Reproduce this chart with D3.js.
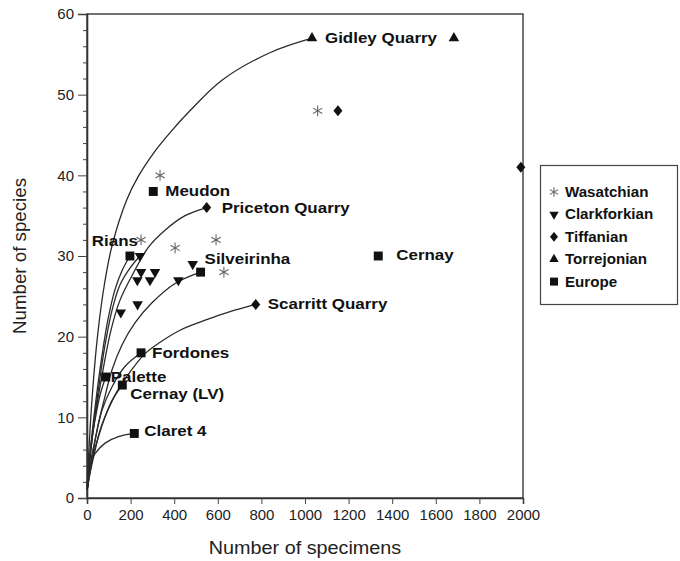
<!DOCTYPE html>
<html>
<head>
<meta charset="utf-8">
<script src="https://cdn.jsdelivr.net/npm/d3@7"></script>
<style>
body { margin: 0; background: #fff; }
svg { display: block; font-family: "Liberation Sans", Arial, sans-serif; }
</style>
</head>
<body>
<div id="chart"></div>
<script>

// [number of specimens, number of species]
var wasatchian = [[335, 40], [1058, 48], [248, 32], [404, 31], [592, 32], [628, 28]];
var clarkforkian = [[243, 30], [248, 28], [312, 28], [231, 27], [289, 27], [419, 27], [485, 29], [155, 23], [232, 24]];
var tiffanian = [[1151, 48], [1990, 41], [549, 36], [774, 24]];
var torrejonian = [[1032, 57], [1683, 57]];
var europe = [[304, 38], [197, 30], [521, 28], [1336, 30], [248, 18], [86, 15], [162, 14], [217, 8]];

var seriesNames = ["Wasatchian", "Clarkforkian", "Tiffanian", "Torrejonian", "Europe"];

var siteNames = ["Gidley Quarry", "Meudon", "Priceton Quarry", "Rians", "Silveirinha", "Cernay",
                 "Scarritt Quarry", "Fordones", "Palette", "Cernay (LV)", "Claret 4"];
var sitePoints = [[1032, 57], [304, 38], [549, 36], [197, 30], [521, 28], [1336, 30],
                  [774, 24], [248, 18], [86, 15], [162, 14], [217, 8]];

// rarefaction curves, points
var curveGidley = [[1, 1], [5, 4], [25, 13], [50, 20.5], [80, 26.5], [115, 31.3], [183, 37], [234, 39.8], [312, 43], [381, 45.3], [472, 48], [619, 51.8], [839, 55.2], [1032, 57]];
var curvePriceton = [[1, 1], [18, 6], [41, 10.8], [73, 15.8], [110, 20.8], [151, 24.5], [211, 27.8], [282, 31.1], [358, 33.2], [450, 35], [549, 36]];
var curveRians = [[1, 1], [18, 6.6], [41, 12.1], [69, 17.7], [96, 22.1], [128, 25.8], [161, 28.2], [197, 30]];
var curveRians2 = [[1, 1], [10, 4], [28, 8.4], [55, 14], [83, 19], [115, 23.3], [151, 26.4], [197, 28.5], [243, 30]];
var curveSilveirinha = [[1, 1], [23, 4.7], [46, 8.4], [78, 12.1], [115, 15.9], [161, 19], [220, 21.7], [298, 24.2], [404, 26.6], [521, 28]];
var curveScarritt = [[1, 1], [9, 2.4], [32, 5.3], [60, 8.4], [96, 10.9], [142, 13.4], [197, 15.6], [266, 17.9], [335, 19.3], [427, 20.8], [549, 22.1], [656, 23.1], [774, 24]];
var curveFordones = [[1, 1], [14, 4.1], [37, 7.2], [69, 10.9], [115, 13.8], [174, 16.3], [248, 18]];
var curvePalette = [[1, 1], [5, 2.9], [18, 6.6], [37, 9.7], [60, 12.8], [86, 15]];
var curveCernayLV = [[1, 1], [8, 2.6], [18, 4.2], [46, 7], [78, 9.7], [115, 12.1], [162, 14]];
var curveClaret = [[1, 1], [3, 2.6], [14, 4.3], [37, 5.5], [83, 6.8], [144, 7.6], [217, 8]];

var xTicks = [0, 200, 400, 600, 800, 1000, 1200, 1400, 1600, 1800, 2000];
var yTicks = [0, 10, 20, 30, 40, 50, 60];
var yMinorTicks = [2, 4, 6, 8, 12, 14, 16, 18, 22, 24, 26, 28, 32, 34, 36, 38, 42, 44, 46, 48, 52, 54, 56, 58];

var W = 680, H = 561;
var plot = { left: 87, top: 14, right: 523, bottom: 498 };

// label offsets [dx, dy, anchor]
var labelOffsets = {
    "Gidley Quarry": [13, 5, "start"],
    "Meudon": [12, 5, "start"],
    "Priceton Quarry": [15, 5, "start"],
    "Rians": [8, -10, "end"],
    "Silveirinha": [4, -8, "start"],
    "Cernay": [18, 4, "start"],
    "Scarritt Quarry": [12, 5, "start"],
    "Fordones": [11, 5, "start"],
    "Palette": [5, 5, "start"],
    "Cernay (LV)": [8, 14, "start"],
    "Claret 4": [10, 3, "start"]
};

var svg = d3.select("#chart").append("svg")
    .attr("width", W)
    .attr("height", H);

var x = d3.scaleLinear().domain([0, 2000]).range([plot.left, plot.right]);
var y = d3.scaleLinear().domain([0, 60]).range([plot.bottom, plot.top]);

// frame
svg.append("rect")
    .attr("x", plot.left)
    .attr("y", plot.top)
    .attr("width", plot.right - plot.left)
    .attr("height", plot.bottom - plot.top)
    .attr("fill", "none")
    .attr("stroke", "#444")
    .attr("stroke-width", 1.5);

// axes
svg.append("g")
    .attr("transform", "translate(0," + plot.bottom + ")")
    .call(d3.axisBottom(x).tickValues(xTicks).tickSize(6).tickPadding(5).tickFormat(d3.format("d")));
svg.append("g")
    .attr("transform", "translate(" + plot.left + ",0)")
    .call(d3.axisLeft(y).tickValues(yTicks).tickSize(9).tickPadding(4));
svg.append("g")
    .attr("transform", "translate(" + plot.left + ",0)")
    .call(d3.axisLeft(y).tickValues(yMinorTicks).tickSize(4).tickFormat(""))
    .select(".domain").remove();

svg.selectAll(".domain").attr("stroke", "#333").attr("stroke-width", 1.6);
svg.selectAll(".tick line").attr("stroke", "#444");
svg.selectAll(".tick text")
    .attr("fill", "#222")
    .style("font-size", "15px")
    .style("font-family", "'Liberation Sans', Arial, sans-serif");

// axis titles
svg.append("text")
    .attr("transform", "translate(305,554) scale(1.1,1)")
    .attr("text-anchor", "middle")
    .attr("fill", "#222")
    .style("font-size", "18px")
    .text("Number of specimens");
svg.append("text")
    .attr("transform", "translate(26,256) rotate(-90) scale(1.04,1)")
    .attr("text-anchor", "middle")
    .attr("fill", "#222")
    .style("font-size", "18px")
    .text("Number of species");

// curves
var line = d3.line()
    .x(function(d) { return x(d[0]); })
    .y(function(d) { return y(d[1]); })
    .curve(d3.curveCatmullRom.alpha(0.5));

var curves = [curveGidley, curvePriceton, curveRians, curveRians2, curveSilveirinha,
              curveScarritt, curveFordones, curvePalette, curveCernayLV, curveClaret];

svg.append("g")
    .selectAll("path")
    .data(curves)
    .enter()
    .append("path")
    .attr("d", line)
    .attr("fill", "none")
    .attr("stroke", "#2a2a2a")
    .attr("stroke-width", 1.3);

// symbols
var diamond = {
    draw: function(context, size) {
        var w = Math.sqrt(size) * 0.45, h = Math.sqrt(size) * 0.55;
        context.moveTo(0, -h);
        context.lineTo(w, 0);
        context.lineTo(0, h);
        context.lineTo(-w, 0);
        context.closePath();
    }
};

var styles = {
    "Wasatchian": { type: d3.symbolAsterisk, size: 80, rot: 0, fill: "none", stroke: "#666" },
    "Clarkforkian": { type: d3.symbolTriangle, size: 48, rot: 180, fill: "#111", stroke: "none" },
    "Tiffanian": { type: diamond, size: 100, rot: 0, fill: "#111", stroke: "none" },
    "Torrejonian": { type: d3.symbolTriangle, size: 48, rot: 0, fill: "#111", stroke: "none" },
    "Europe": { type: d3.symbolSquare, size: 80, rot: 0, fill: "#111", stroke: "none" }
};

var allSeries = [wasatchian, clarkforkian, tiffanian, torrejonian, europe];

function drawMarks(g, name, pts) {
    var s = styles[name];
    g.selectAll("path")
        .data(pts)
        .enter()
        .append("path")
        .attr("d", d3.symbol().type(s.type).size(s.size))
        .attr("transform", function(d) {
            return "translate(" + x(d[0]) + "," + y(d[1]) + ") rotate(" + s.rot + ")";
        })
        .attr("fill", s.fill)
        .attr("stroke", s.stroke)
        .attr("stroke-width", 1.1);
}

for (var i = 0; i < seriesNames.length; i++) {
    drawMarks(svg.append("g"), seriesNames[i], allSeries[i]);
}

// site labels
svg.append("g")
    .selectAll("text")
    .data(siteNames)
    .enter()
    .append("text")
    .attr("transform", function(d, i) {
        var o = labelOffsets[d];
        return "translate(" + (x(sitePoints[i][0]) + o[0]) + "," + (y(sitePoints[i][1]) + o[1]) + ") scale(1.13,1)";
    })
    .attr("text-anchor", function(d) { return labelOffsets[d][2]; })
    .attr("fill", "#111")
    .style("font-size", "15px")
    .style("font-weight", "bold")
    .text(function(d) { return d; });

// legend
var legend = svg.append("g");
legend.append("rect")
    .attr("x", 540.5)
    .attr("y", 165.5)
    .attr("width", 137)
    .attr("height", 139)
    .attr("fill", "#fff")
    .attr("stroke", "#444")
    .attr("stroke-width", 1.2);

var legItems = legend.selectAll("g.item")
    .data(seriesNames)
    .enter()
    .append("g")
    .attr("class", "item")
    .attr("transform", function(d, i) { return "translate(554," + (192 + i * 22.4) + ")"; });

legItems.append("path")
    .attr("d", function(d) { return d3.symbol().type(styles[d].type).size(styles[d].size * 0.8)(); })
    .attr("transform", function(d) { return "rotate(" + styles[d].rot + ")"; })
    .attr("fill", function(d) { return styles[d].fill; })
    .attr("stroke", function(d) { return styles[d].stroke; })
    .attr("stroke-width", 1.1);

legItems.append("text")
    .attr("transform", "translate(11,5) scale(1.08,1)")
    .attr("fill", "#111")
    .style("font-size", "14px")
    .style("font-weight", "bold")
    .text(function(d) { return d; });

</script>
</body>
</html>
